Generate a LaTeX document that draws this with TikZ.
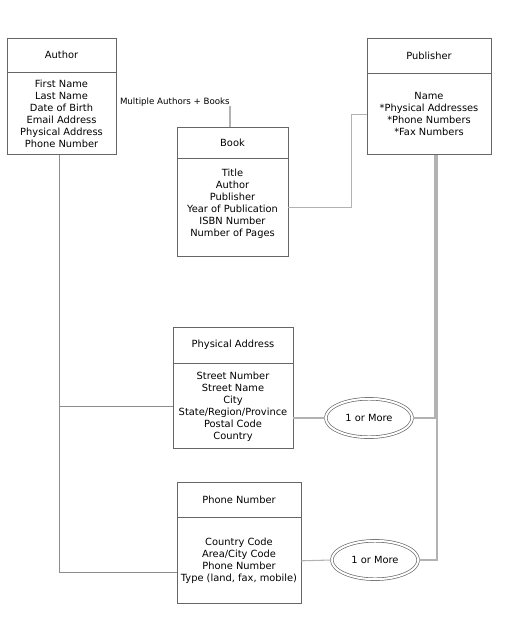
\documentclass[tikz,border=0pt]{standalone}
\usepackage{fontspec}
\setmainfont{DejaVu Sans}
\usepackage{tikz}
\usetikzlibrary{positioning,shapes.geometric}

\begin{document}
\begin{tikzpicture}[
  x=0.75pt, y=-0.75pt,
  node distance = 0pt,
  head/.style  = {draw=black!60, line width=0.6pt, fill=white, inner sep=0pt,
                  font=\fontsize{7.4}{9}\selectfont, align=center},
  attrs/.style = {head},
  multi/.style = {ellipse, draw=black!60, line width=0.5pt, double, double distance=1.5pt,
                  minimum width=64.8pt, minimum height=28.8pt, inner sep=0pt,
                  font=\fontsize{7.4}{9}\selectfont},
  conn/.style  = {draw=black!30, line width=0.8pt},
  link/.style  = {draw=black!45, line width=0.6pt}
]
  \useasboundingbox (0,0) rectangle (510,617);

  \node[head, minimum width=81.75pt, minimum height=25.5pt] (authhd) at (61.5,55) {Author};
  \node[attrs, below=of authhd, minimum width=81.75pt, minimum height=61.5pt] (authbody)
    {First Name\\Last Name\\Date of Birth\\Email Address\\Physical Address\\Phone Number};

  \node[head, minimum width=83.25pt, minimum height=23.25pt] (bookhd) at (232.5,142.5) {Book};
  \node[attrs, below=of bookhd, minimum width=83.25pt, minimum height=73.5pt] (bookbody)
    {Title\\Author\\Publisher\\Year of Publication\\ISBN Number\\Number of Pages\\[-1.5pt]};

  \node[head, minimum width=93pt, minimum height=26.25pt] (pubhd) at (429,55.5) {Publisher};
  \node[attrs, below=of pubhd, minimum width=93pt, minimum height=60.75pt] (pubbody)
    {Name\\*Physical Addresses\\*Phone Numbers\\*Fax Numbers};

  \node[head, minimum width=90pt, minimum height=27pt] (addrhd) at (233,345) {Physical Address};
  \node[attrs, below=of addrhd, minimum width=90pt, minimum height=63.75pt] (addrbody)
    {Street Number\\Street Name\\City\\State/Region/Province\\Postal Code\\Country};

  \node[head, minimum width=93pt, minimum height=26.25pt] (phonehd) at (239,499.5) {Phone Number};
  \node[attrs, below=of phonehd, minimum width=93pt, minimum height=64.5pt] (phonebody)
    {Country Code\\Area/City Code\\Phone Number\\Type (land, fax, mobile)};

  \node[multi] (addrmany)  at (369,418) {1 or More};
  \node[multi] (phonemany) at (375,560) {1 or More};

  \node[anchor=east, inner sep=0pt, font=\fontsize{6.5}{8}\selectfont] (mab) at (230,102)
    {Multiple Authors + Books};

  \draw[conn] (mab.south east) -- (mab.south east |- bookhd.north);
  \draw[conn] (bookbody.east) -| ([xshift=-11.25pt]pubbody.west) -- (pubbody.west);
  \draw[link] ([xshift=-1.5pt]authbody.south) |- (addrbody.west);
  \draw[link] ([xshift=-1.5pt]authbody.south) |- ([yshift=-9pt]phonebody.west);
  \draw[conn] (addrmany.west -| addrbody.east) -- (addrmany.west);
  \draw[conn] (phonebody.east) -- (phonemany.west);
  \draw[conn] ([xshift=4.5pt]pubbody.south) |- (addrmany.east);
  \draw[conn] ([xshift=6pt]pubbody.south) |- (phonemany.east);
\end{tikzpicture}
\end{document}
